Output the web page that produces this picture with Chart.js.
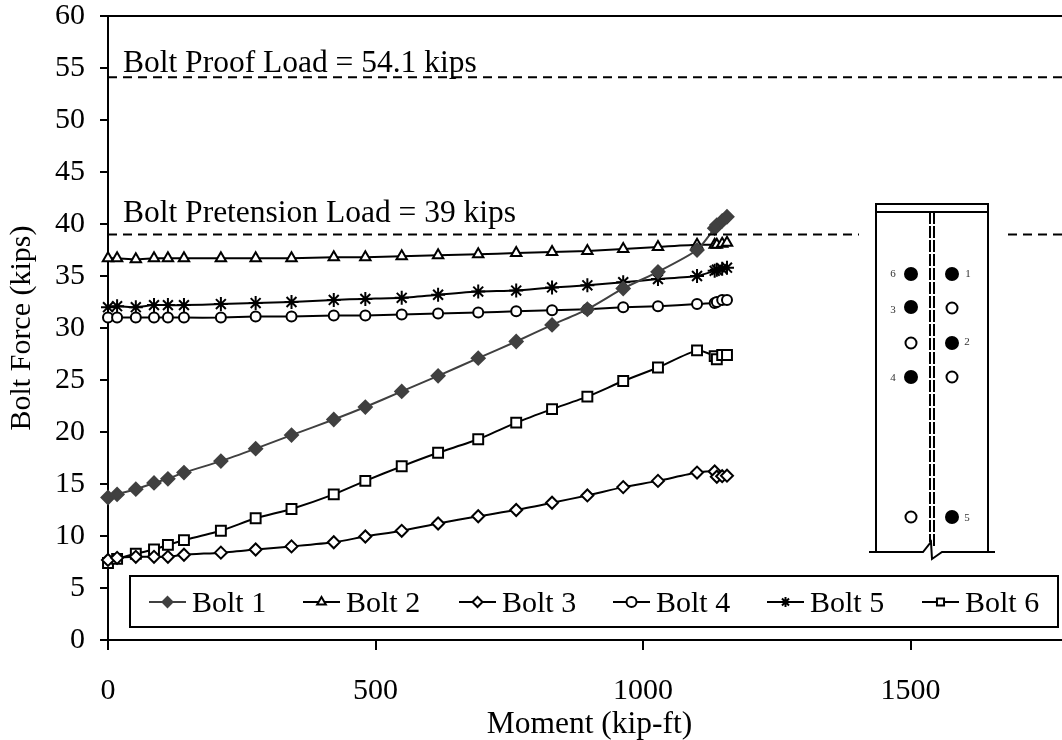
<!DOCTYPE html>
<html>
<head>
<meta charset="utf-8">
<style>
  html, body { margin: 0; padding: 0; background: #fff; overflow: hidden; }
  #wrap { width: 1062px; height: 740px; overflow: hidden; }
</style>
<script src="https://cdn.jsdelivr.net/npm/chart.js@4/dist/chart.umd.min.js"></script>
</head>
<body>
<div id="wrap"><canvas id="boltChart" width="1080" height="740"></canvas></div>
<script>
// Moment values shared by every bolt
const moment = [0, 17, 52, 86, 112, 142, 211, 276, 343, 422, 481, 549, 617, 692, 763, 830, 896, 963, 1028, 1101, 1134, 1138, 1148, 1157];

const bolt1 = [13.7, 14.0, 14.5, 15.1, 15.5, 16.1, 17.2, 18.4, 19.7, 21.2, 22.4, 23.9, 25.4, 27.1, 28.7, 30.3, 31.8, 33.8, 35.4, 37.5, 39.6, 39.9, 40.3, 40.7];
const bolt2 = [36.7, 36.7, 36.6, 36.7, 36.7, 36.7, 36.7, 36.7, 36.7, 36.8, 36.8, 36.9, 37.0, 37.1, 37.2, 37.3, 37.4, 37.6, 37.8, 38.0, 38.0, 38.0, 38.1, 38.2];
const bolt3 = [7.7, 7.9, 8.0, 8.0, 8.0, 8.2, 8.4, 8.7, 9.0, 9.4, 9.95, 10.5, 11.2, 11.9, 12.5, 13.2, 13.9, 14.7, 15.3, 16.1, 16.2, 15.7, 15.75, 15.8];
const bolt4 = [31.0, 31.0, 31.0, 31.0, 31.0, 31.0, 31.0, 31.1, 31.1, 31.2, 31.2, 31.3, 31.4, 31.5, 31.6, 31.7, 31.8, 32.0, 32.1, 32.3, 32.4, 32.5, 32.7, 32.7];
const bolt5 = [32.0, 32.1, 32.0, 32.2, 32.2, 32.2, 32.3, 32.4, 32.5, 32.7, 32.8, 32.9, 33.2, 33.5, 33.6, 33.9, 34.1, 34.4, 34.7, 35.0, 35.5, 35.6, 35.7, 35.8];
const bolt6 = [7.4, 7.8, 8.3, 8.7, 9.15, 9.6, 10.5, 11.7, 12.6, 14.0, 15.3, 16.7, 18.0, 19.3, 20.9, 22.2, 23.4, 24.9, 26.2, 27.85, 27.3, 27.0, 27.4, 27.4];

const proofLoad = 54.1;
const pretensionLoad = 39;
const xLimits = [0, 1800];
const xTicks = [0, 500, 1000, 1500];
const proofLabel = 'Bolt Proof Load = 54.1 kips';
const pretensionLabel = 'Bolt Pretension Load = 39 kips';

const FONT = '"Liberation Serif", "Times New Roman", serif';
const DARK = '#404040';

function boltSet(label, values, pointStyle, radius, color, fill) {
    return {
        label: label,
        data: values.map((v, i) => ({ x: moment[i], y: v })),
        borderColor: color,
        backgroundColor: fill,
        borderWidth: 2,
        tension: 0.2,
        pointStyle: pointStyle,
        pointRadius: radius,
        pointBorderWidth: 2,
        pointBorderColor: color,
        pointBackgroundColor: fill
    };
}

function loadLine(value) {
    return {
        data: xLimits.map(x => ({ x: x, y: value })),
        borderColor: '#000',
        borderWidth: 2,
        borderDash: [9, 6],
        pointRadius: 0,
        isLoad: true
    };
}

// Top edge of the plot and the two load captions
const framePlugin = {
    id: 'frame',
    afterDatasetsDraw(chart) {
        const ctx = chart.ctx, area = chart.chartArea, yScale = chart.scales.y, xScale = chart.scales.x;
        ctx.save();
        ctx.strokeStyle = '#000';
        ctx.lineWidth = 2;
        ctx.beginPath();
        ctx.moveTo(area.left - 8, area.top);
        ctx.lineTo(area.right, area.top);
        ctx.stroke();
        ctx.fillStyle = '#000';
        ctx.font = '31.5px ' + FONT;
        ctx.textBaseline = 'alphabetic';
        ctx.textAlign = 'left';
        ctx.fillText(proofLabel, xScale.getPixelForValue(28), yScale.getPixelForValue(proofLoad) - 5);
        ctx.fillText(pretensionLabel, xScale.getPixelForValue(28), yScale.getPixelForValue(pretensionLoad) - 12);
        ctx.restore();
    }
};

// Little sketch of the end plate with the bolt numbers
const sketchPlugin = {
    id: 'sketch',
    afterDatasetsDraw(chart) {
        const ctx = chart.ctx;
        ctx.save();
        ctx.fillStyle = '#fff';
        ctx.fillRect(859, 196, 146, 370);
        ctx.strokeStyle = '#000';
        ctx.lineWidth = 2;
        ctx.beginPath();
        ctx.moveTo(876, 552); ctx.lineTo(876, 204); ctx.lineTo(988, 204); ctx.lineTo(988, 552);
        ctx.moveTo(876, 212); ctx.lineTo(988, 212);
        ctx.moveTo(869, 552); ctx.lineTo(923, 552); ctx.lineTo(931, 542);
        ctx.lineTo(932, 559); ctx.lineTo(942, 552); ctx.lineTo(995, 552);
        ctx.stroke();
        ctx.setLineDash([12, 2]);
        ctx.beginPath();
        ctx.moveTo(930, 212); ctx.lineTo(930, 542);
        ctx.moveTo(934, 212); ctx.lineTo(934, 546);
        ctx.stroke();
        ctx.setLineDash([]);
        const holes = [[911, 274, 1], [952, 274, 1], [911, 307, 1], [952, 308, 0], [911, 343, 0],
                       [952, 343, 1], [911, 377, 1], [952, 377, 0], [911, 517, 0], [952, 517, 1]];
        holes.forEach(h => {
            ctx.beginPath();
            ctx.arc(h[0], h[1], h[2] ? 6 : 5.5, 0, Math.PI * 2);
            ctx.fillStyle = h[2] ? '#000' : '#fff';
            ctx.fill();
            ctx.stroke();
        });
        ctx.fillStyle = '#333';
        ctx.font = '11px ' + FONT;
        ctx.textAlign = 'center';
        ctx.textBaseline = 'middle';
        [['6', 893, 274], ['1', 968, 274], ['3', 893, 310], ['2', 967, 342], ['4', 893, 378], ['5', 967, 518]]
            .forEach(t => ctx.fillText(t[0], t[1], t[2]));
        ctx.restore();
    }
};

// Boxed legend inside the plot: line and marker in front of each name
const legendPlugin = {
    id: 'boxLegend',
    afterDatasetsDraw(chart) {
        const ctx = chart.ctx;
        const starts = [149, 303, 459, 613, 767, 922];
        const lineY = 602;
        ctx.save();
        ctx.fillStyle = '#fff';
        ctx.fillRect(130, 576, 928, 51);
        ctx.strokeStyle = '#000';
        ctx.lineWidth = 2;
        ctx.strokeRect(130, 576, 928, 51);
        chart.data.datasets.filter(d => !d.isLoad).forEach((d, i) => {
            const x = starts[i];
            ctx.strokeStyle = d.borderColor;
            ctx.fillStyle = d.pointBackgroundColor;
            ctx.lineWidth = 2;
            ctx.beginPath();
            ctx.moveTo(x, lineY);
            ctx.lineTo(x + 37, lineY);
            ctx.stroke();
            Chart.helpers.drawPoint(ctx, { pointStyle: d.pointStyle, radius: 5, rotation: 0, borderWidth: 2 }, x + 18.5, lineY);
            ctx.fillStyle = '#000';
            ctx.font = '30px ' + FONT;
            ctx.textAlign = 'left';
            ctx.textBaseline = 'alphabetic';
            ctx.fillText(d.label, x + 43, 612);
        });
        ctx.restore();
    }
};

new Chart(document.getElementById('boltChart'), {
    type: 'line',
    data: {
        datasets: [
            loadLine(proofLoad),
            loadLine(pretensionLoad),
            boltSet('Bolt 1', bolt1, 'rectRot', 6.5, DARK, DARK),
            boltSet('Bolt 2', bolt2, 'triangle', 6, '#000', '#fff'),
            boltSet('Bolt 3', bolt3, 'rectRot', 6, '#000', '#fff'),
            boltSet('Bolt 4', bolt4, 'circle', 5, '#000', '#fff'),
            boltSet('Bolt 5', bolt5, 'star', 7, '#000', '#fff'),
            boltSet('Bolt 6', bolt6, 'rect', 7, '#000', '#fff')
        ]
    },
    options: {
        responsive: false,
        animation: false,
        clip: false,
        layout: { padding: { top: 16, right: 8, left: 0, bottom: 0 } },
        plugins: { legend: { display: false }, tooltip: { enabled: false } },
        scales: {
            x: {
                type: 'linear',
                min: xLimits[0],
                max: xLimits[1],
                afterBuildTicks: s => { s.ticks = xTicks.map(v => ({ value: v })); },
                afterFit: s => { s.height = 100; s.paddingRight = 0; },
                border: { color: '#000', width: 2 },
                grid: { drawOnChartArea: false, color: '#000', lineWidth: 2, tickLength: 10, tickWidth: 2 },
                ticks: { callback: v => String(v), color: '#000', font: { family: FONT, size: 30 }, padding: 23, maxRotation: 0, autoSkip: false },
                title: { display: true, text: 'Moment (kip-ft)', color: '#000', font: { family: FONT, size: 31.5, lineHeight: 1 }, padding: { top: 2, bottom: 0 } }
            },
            y: {
                min: 0,
                max: 60,
                afterFit: s => { s.width = 108; s.paddingTop = 0; s.paddingBottom = 0; },
                border: { color: '#000', width: 2 },
                grid: { drawOnChartArea: false, color: '#000', lineWidth: 2, tickLength: 8, tickWidth: 2 },
                ticks: { stepSize: 5, color: '#000', font: { family: FONT, size: 30 }, padding: 15, autoSkip: false },
                title: { display: true, text: 'Bolt Force (kips)', color: '#000', font: { family: FONT, size: 30, lineHeight: 1 }, padding: { top: 7, bottom: 0 } }
            }
        }
    },
    plugins: [framePlugin, sketchPlugin, legendPlugin]
});
</script>
</body>
</html>
